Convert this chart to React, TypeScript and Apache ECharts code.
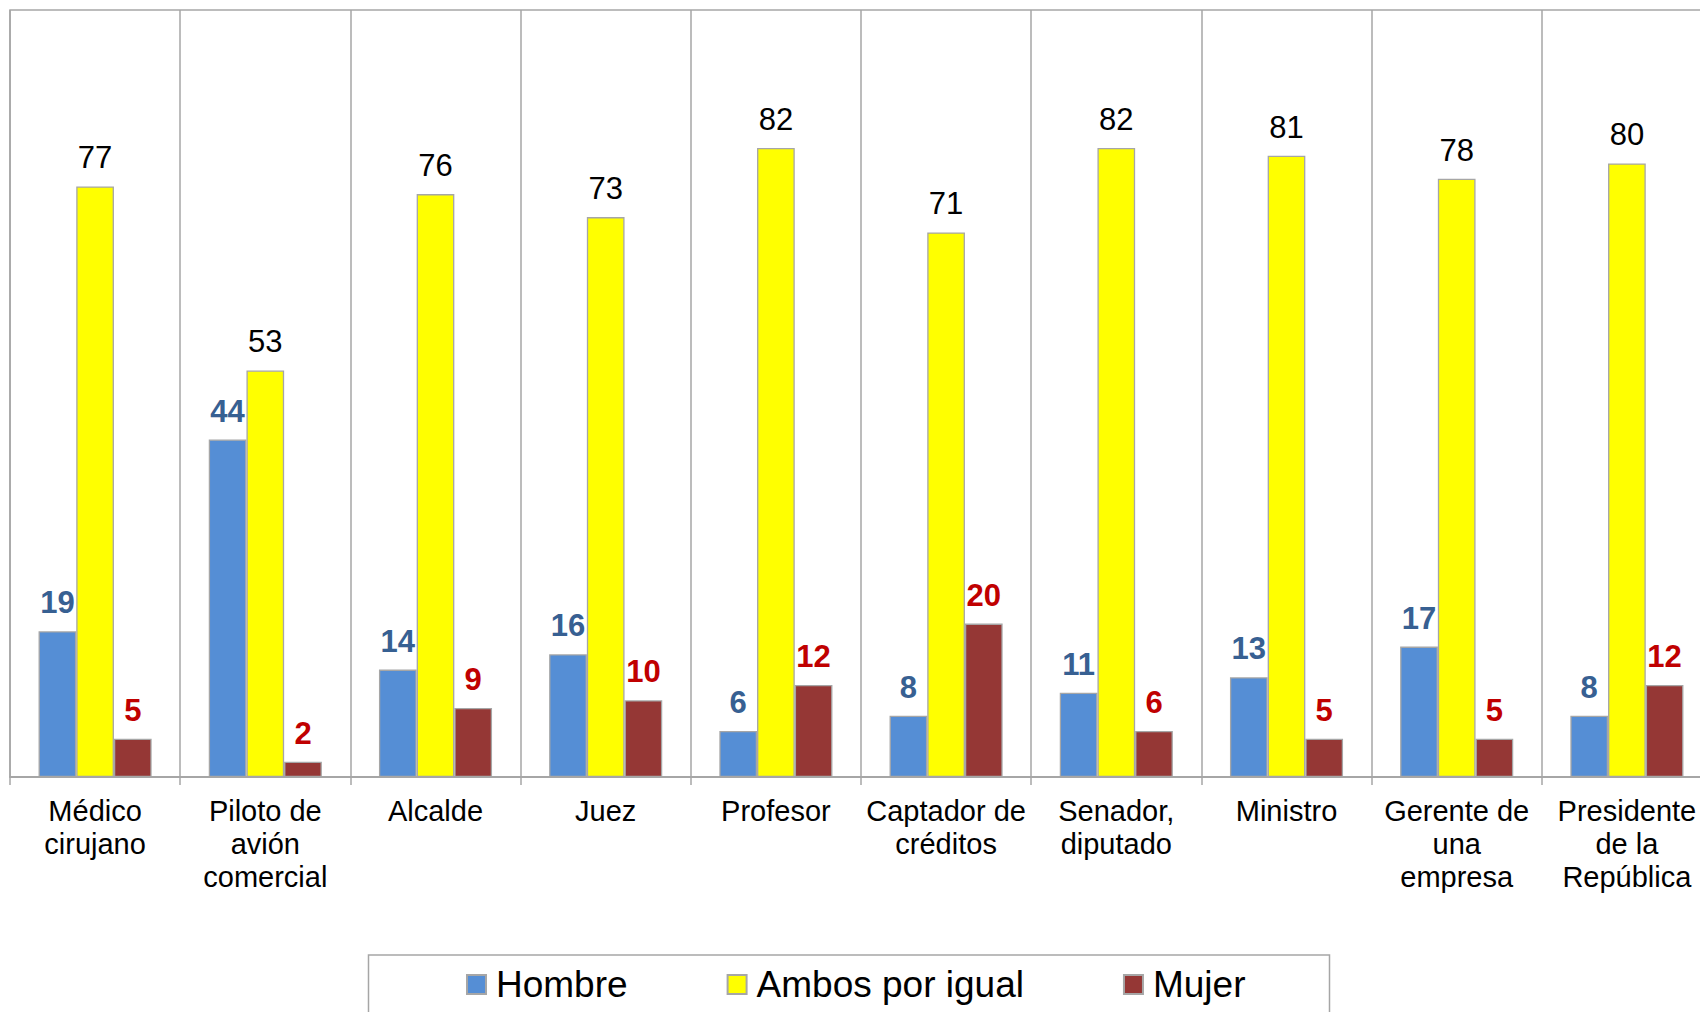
import React, { useEffect, useRef } from "react";
import * as echarts from "echarts";

const categories = [
  "Médico\ncirujano",
  "Piloto de\navión\ncomercial",
  "Alcalde",
  "Juez",
  "Profesor",
  "Captador de\ncréditos",
  "Senador,\ndiputado",
  "Ministro",
  "Gerente de\nuna\nempresa",
  "Presidente\nde la\nRepública",
];
const seriesNames = ["Hombre", "Ambos por igual", "Mujer"];
const hombre = [19, 44, 14, 16, 6, 8, 11, 13, 17, 8];
const ambos = [77, 53, 76, 73, 82, 71, 82, 81, 78, 80];
const mujer = [5, 2, 9, 10, 12, 20, 6, 5, 5, 12];

const FONT = "'Liberation Sans', Arial, Helvetica, sans-serif";
const GRAY = "#A6A6A6";

export default function App() {
  const ref = useRef<HTMLDivElement>(null);
  useEffect(() => {
    if (!ref.current) return;
    const chart = echarts.init(ref.current, null, { renderer: "svg" });
    const mkSeries = (name: string, data: number[], color: string, labelColor: string, bold: boolean) => ({
      name,
      type: "bar",
      data,
      barWidth: 37.7,
      barGap: "0%",
      itemStyle: { color, borderColor: GRAY, borderWidth: 1.3 },
      label: {
        show: true,
        position: "top",
        distance: 13,
        color: labelColor,
        fontFamily: FONT,
        fontSize: 31,
        fontWeight: bold ? "bold" : "normal",
      },
    });
    chart.setOption({
      animation: false,
      backgroundColor: "#ffffff",
      textStyle: { fontFamily: FONT },
      grid: {
        left: 10,
        top: 10,
        width: 1702,
        height: 767,
        outerBoundsMode: "none",
        containLabel: false,
        show: true,
        borderColor: GRAY,
        borderWidth: 1.5,
        backgroundColor: "transparent",
      },
      legend: {
        left: 466,
        top: 966,
        icon: "rect",
        itemWidth: 19,
        itemHeight: 19,
        itemGap: 99,
        padding: 0,
        textStyle: { fontFamily: FONT, fontSize: 37, color: "#000", padding: [0, 0, 0, 5] },
        data: seriesNames,
      },
      graphic: [
        {
          type: "rect",
          shape: { x: 368.5, y: 955, width: 961, height: 80 },
          style: { fill: "none", stroke: GRAY, lineWidth: 1.5 },
          silent: true,
        },
      ],
      xAxis: {
        type: "category",
        data: categories,
        axisLine: { show: true, lineStyle: { color: GRAY, width: 1.8 } },
        axisTick: { show: true, length: 8, lineStyle: { color: GRAY, width: 1.5 } },
        splitLine: { show: true, lineStyle: { color: GRAY, width: 1.5 } },
        axisLabel: {
          interval: 0,
          margin: 17,
          color: "#000",
          fontFamily: FONT,
          fontSize: 29,
          lineHeight: 33,
        },
      },
      yAxis: {
        type: "value",
        min: 0,
        max: 100,
        interval: 100,
        show: false,
        splitLine: { show: false },
      },
      series: [
        mkSeries(seriesNames[0], hombre, "#558ED5", "#376092", true),
        mkSeries(seriesNames[1], ambos, "#FFFF00", "#000000", false),
        mkSeries(seriesNames[2], mujer, "#953735", "#C00000", true),
      ],
    });
    return () => chart.dispose();
  }, []);
  return (
    <div
      ref={ref}
      style={{ position: "absolute", left: 0, top: 0, width: 1700, height: 1012, background: "#fff" }}
    />
  );
}
